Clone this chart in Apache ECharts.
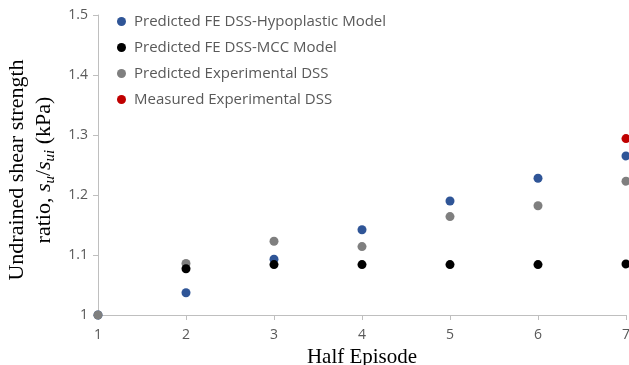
<!DOCTYPE html>
<html><head><meta charset="utf-8">
<script src="https://cdn.jsdelivr.net/npm/echarts@6/dist/echarts.min.js"></script>
<style>html,body{margin:0;padding:0;background:#fff}#c{width:629px;height:365px}</style>
</head><body><div id="c"></div>
<script>
var halfEpisodes = [1, 2, 3, 4, 5, 6, 7];
var hypoplastic = [1.0, 1.037, 1.093, 1.142, 1.190, 1.228, 1.265];
var mcc = [null, 1.077, 1.084, 1.084, 1.084, 1.084, 1.085];
var experimental = [1.0, 1.086, 1.123, 1.114, 1.164, 1.182, 1.223];
var measuredX = [7];
var measured = [1.294];
var yTicks = [1, 1.1, 1.2, 1.3, 1.4, 1.5];

function pairs(xs, ys) { var o = []; for (var i = 0; i < xs.length; i++) if (ys[i] != null) o.push([xs[i], ys[i]]); return o; }

var names = ['Predicted FE DSS-Hypoplastic Model', 'Predicted FE DSS-MCC Model', 'Predicted Experimental DSS', 'Measured Experimental DSS'];
var chart = echarts.init(document.getElementById('c'));
var sans = 'Open Sans';
chart.setOption({
  animation: false,
  grid: { left: 98, right: 3, top: 15, bottom: 50, containLabel: false, outerBoundsMode: 'none' },
  legend: {
    data: names, orient: 'vertical', left: 112, top: 9, itemGap: 11,
    icon: 'circle', itemWidth: 9, itemHeight: 9,
    textStyle: { color: '#595959', fontSize: 15, fontFamily: sans, padding: [0, 0, 0, 3] }
  },
  xAxis: {
    type: 'value', min: 1, max: 7, interval: 1,
    name: 'Half Episode', nameLocation: 'middle', nameGap: 30,
    nameTextStyle: { fontFamily: 'Liberation Serif', fontSize: 21, color: '#000' },
    axisLine: { lineStyle: { color: '#bfbfbf' } },
    axisTick: { show: true, length: 5, lineStyle: { color: '#bfbfbf' } },
    axisLabel: { color: '#595959', fontSize: 14, fontFamily: sans, margin: 13 },
    splitLine: { show: false }
  },
  yAxis: {
    type: 'value', min: yTicks[0], max: yTicks[yTicks.length - 1], interval: 0.1,
    name: '{t|Undrained shear strength}\n{t|ratio, }{i|s}{s|u}{t|/}{i|s}{s|ui}{t| (kPa)}',
    nameLocation: 'middle', nameGap: 39,
    nameTextStyle: {
      color: '#000', align: 'center', padding: [0, 10, 0, 0],
      rich: {
        t: { fontFamily: 'Liberation Serif', fontSize: 22, lineHeight: 27, color: '#000' },
        i: { fontFamily: 'Liberation Serif', fontStyle: 'italic', fontSize: 22, lineHeight: 27, color: '#000' },
        s: { fontFamily: 'Liberation Serif', fontStyle: 'italic', fontSize: 15, lineHeight: 27, verticalAlign: 'bottom', color: '#000', padding: [7, 0, 0, 0] }
      }
    },
    axisLine: { show: true, lineStyle: { color: '#bfbfbf' } },
    axisTick: { show: true, length: 5, lineStyle: { color: '#bfbfbf' } },
    axisLabel: { color: '#595959', fontSize: 14, fontFamily: sans, margin: 10 },
    splitLine: { show: false }
  },
  series: [
    { name: names[0], type: 'scatter', symbolSize: 9, itemStyle: { color: '#2f5597', opacity: 1 }, data: pairs(halfEpisodes, hypoplastic), clip: false },
    { name: names[2], type: 'scatter', symbolSize: 9, itemStyle: { color: '#7f7f7f', opacity: 1 }, data: pairs(halfEpisodes, experimental), clip: false },
    { name: names[1], type: 'scatter', symbolSize: 9, itemStyle: { color: '#000000', opacity: 1 }, data: pairs(halfEpisodes, mcc), clip: false },
    { name: names[3], type: 'scatter', symbolSize: 9, itemStyle: { color: '#c00000', opacity: 1 }, data: pairs(measuredX, measured), clip: false }
  ]
});
</script></body></html>
